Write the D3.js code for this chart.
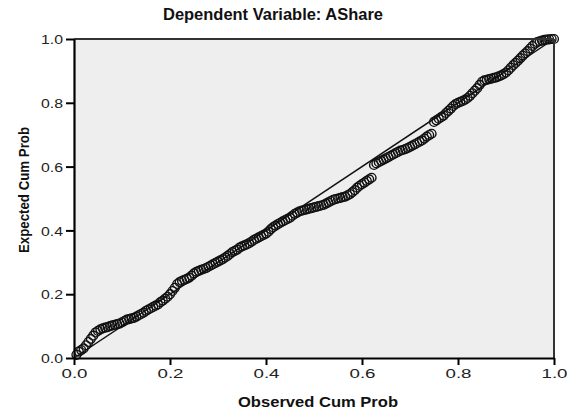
<!DOCTYPE html>
<html><head><meta charset="utf-8">
<script src="https://cdn.jsdelivr.net/npm/d3@7"></script>
<style>body{margin:0;background:#fff}svg{display:block}</style>
</head><body>
<svg id="c" width="569" height="412"></svg>
<script>
const title = "Dependent Variable: AShare";
const xLabel = "Observed Cum Prob";
const yLabel = "Expected Cum Prob";
const tickValues = [0, 0.2, 0.4, 0.6, 0.8, 1.0];
const tickLabels = ["0.0", "0.2", "0.4", "0.6", "0.8", "1.0"];
const observed = [
0.005,0.010,0.015,0.020,0.025,0.030,0.035,0.040,0.045,0.050,
0.055,0.060,0.065,0.070,0.075,0.080,0.085,0.090,0.095,0.100,
0.105,0.110,0.115,0.120,0.125,0.130,0.135,0.140,0.145,0.150,
0.155,0.160,0.165,0.170,0.175,0.180,0.185,0.190,0.195,0.200,
0.205,0.210,0.215,0.220,0.225,0.230,0.235,0.240,0.245,0.250,
0.255,0.260,0.265,0.270,0.275,0.280,0.285,0.290,0.295,0.300,
0.305,0.310,0.315,0.320,0.325,0.330,0.335,0.340,0.345,0.350,
0.355,0.360,0.365,0.370,0.375,0.380,0.385,0.390,0.395,0.400,
0.405,0.410,0.415,0.420,0.425,0.430,0.435,0.440,0.445,0.450,
0.455,0.460,0.465,0.470,0.475,0.480,0.485,0.490,0.495,0.500,
0.505,0.510,0.515,0.520,0.525,0.530,0.535,0.540,0.545,0.550,
0.555,0.560,0.565,0.570,0.575,0.580,0.585,0.590,0.595,0.600,
0.605,0.610,0.615,0.620,0.625,0.630,0.635,0.640,0.645,0.650,
0.655,0.660,0.665,0.670,0.675,0.680,0.685,0.690,0.695,0.700,
0.705,0.710,0.715,0.720,0.725,0.730,0.735,0.740,0.745,0.750,
0.755,0.760,0.765,0.770,0.775,0.780,0.785,0.790,0.795,0.800,
0.805,0.810,0.815,0.820,0.825,0.830,0.835,0.840,0.845,0.850,
0.855,0.860,0.865,0.870,0.875,0.880,0.885,0.890,0.895,0.900,
0.905,0.910,0.915,0.920,0.925,0.930,0.935,0.940,0.945,0.950,
0.955,0.960,0.965,0.970,0.975,0.980,0.985,0.990,0.995,1.000];
const expected = [
0.010,0.020,0.025,0.030,0.040,0.050,0.060,0.070,0.080,0.085,
0.090,0.093,0.095,0.097,0.100,0.102,0.104,0.106,0.108,0.112,
0.116,0.120,0.122,0.124,0.126,0.130,0.134,0.138,0.142,0.148,
0.152,0.156,0.160,0.164,0.168,0.175,0.180,0.186,0.192,0.200,
0.210,0.220,0.232,0.238,0.242,0.245,0.248,0.252,0.258,0.265,
0.270,0.273,0.276,0.279,0.282,0.286,0.290,0.294,0.298,0.302,
0.306,0.310,0.315,0.320,0.326,0.332,0.336,0.340,0.346,0.350,
0.353,0.356,0.360,0.365,0.370,0.374,0.378,0.382,0.386,0.390,
0.396,0.404,0.410,0.415,0.420,0.424,0.428,0.432,0.436,0.440,
0.446,0.452,0.456,0.460,0.462,0.464,0.466,0.468,0.470,0.472,
0.474,0.476,0.478,0.480,0.484,0.488,0.492,0.496,0.498,0.500,
0.502,0.504,0.506,0.510,0.514,0.520,0.526,0.534,0.540,0.545,
0.550,0.555,0.560,0.565,0.605,0.610,0.614,0.618,0.622,0.626,
0.630,0.634,0.638,0.642,0.646,0.650,0.652,0.655,0.658,0.662,
0.666,0.670,0.674,0.678,0.682,0.688,0.694,0.699,0.703,0.740,
0.745,0.750,0.755,0.760,0.768,0.775,0.782,0.790,0.796,0.800,
0.803,0.806,0.810,0.815,0.822,0.830,0.838,0.846,0.856,0.866,
0.870,0.872,0.874,0.876,0.878,0.880,0.883,0.886,0.890,0.895,
0.902,0.910,0.918,0.925,0.932,0.940,0.948,0.955,0.962,0.970,
0.978,0.985,0.990,0.993,0.995,0.997,0.998,0.999,1.000,1.000];

const svg = d3.select("#c");
const L = 74, R = 554, T = 39, B = 358;
const x = d3.scaleLinear().domain([0, 1]).range([L, R]);
const y = d3.scaleLinear().domain([0, 1]).range([B, T]);
const font = "'Liberation Sans', Arial, sans-serif";

svg.append("rect").attr("x", L).attr("y", T).attr("width", R - L).attr("height", B - T)
  .attr("fill", "#eeeeee");

// diagonal reference line
svg.append("line").attr("x1", x(0)).attr("y1", y(0)).attr("x2", x(1)).attr("y2", y(1))
  .attr("stroke", "#111").attr("stroke-width", 1.5);

// points
const pts = observed.map((o, i) => ({o, e: expected[i]}));
svg.append("g").selectAll("circle").data(pts).join("circle")
  .attr("cx", d => x(d.o)).attr("cy", d => y(d.e)).attr("r", 4.4)
  .attr("fill", "none").attr("stroke", "#111").attr("stroke-width", 1.4);

// frame top/right
svg.append("line").attr("x1", L).attr("x2", R).attr("y1", T).attr("y2", T)
  .attr("stroke", "#333").attr("stroke-width", 2);
svg.append("line").attr("x1", R).attr("x2", R).attr("y1", T).attr("y2", B)
  .attr("stroke", "#333").attr("stroke-width", 2);

// axes
const xAxis = d3.axisBottom(x).tickValues(tickValues).tickSize(7).tickSizeOuter(0)
  .tickFormat((d, i) => tickLabels[i]);
const yAxis = d3.axisLeft(y).tickValues(tickValues).tickSize(8).tickSizeOuter(0)
  .tickFormat((d, i) => tickLabels[i]);

const gx = svg.append("g").attr("transform", `translate(0,${B})`).call(xAxis);
const gy = svg.append("g").attr("transform", `translate(${L},0)`).call(yAxis);
[gx, gy].forEach(g => {
  g.select(".domain").attr("stroke", "#000").attr("stroke-width", 2.2);
  g.selectAll(".tick line").attr("stroke", "#000").attr("stroke-width", 2);
  g.selectAll(".tick text").attr("font-family", font).attr("font-size", 13)
    .attr("fill", "#222").attr("lengthAdjust", "spacingAndGlyphs");
});
gx.selectAll(".tick text").attr("y", 11).attr("dy", "0.71em").attr("textLength", 26);
gy.selectAll(".tick text").attr("x", -11).attr("dy", "0.36em").attr("textLength", 22)
  .attr("text-anchor", "end");

// titles
svg.append("text").attr("x", 273).attr("y", 20).attr("text-anchor", "middle")
  .attr("font-family", font).attr("font-weight", "bold").attr("font-size", 16)
  .attr("fill", "#111").attr("textLength", 220).attr("lengthAdjust", "spacingAndGlyphs")
  .text(title);
svg.append("text").attr("x", 318).attr("y", 407).attr("text-anchor", "middle")
  .attr("font-family", font).attr("font-weight", "bold").attr("font-size", 15)
  .attr("fill", "#111").attr("textLength", 160).attr("lengthAdjust", "spacingAndGlyphs")
  .text(xLabel);
svg.append("text").attr("transform", "translate(29,190) rotate(-90)").attr("text-anchor", "middle")
  .attr("font-family", font).attr("font-weight", "bold").attr("font-size", 15)
  .attr("fill", "#111").attr("textLength", 126).attr("lengthAdjust", "spacingAndGlyphs")
  .text(yLabel);
</script>
</body></html>
